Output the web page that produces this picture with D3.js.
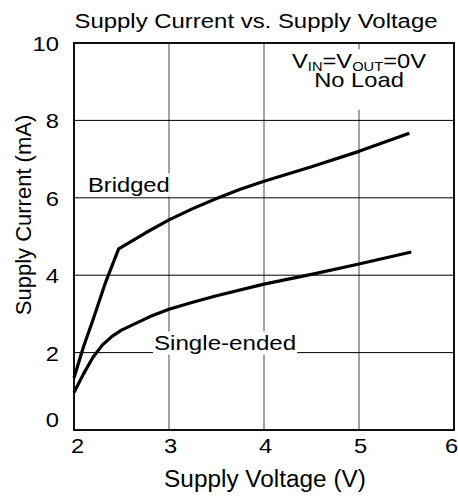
<!DOCTYPE html>
<html lang="en">
<head>
    <meta charset="utf-8">
    <title>Supply Current vs. Supply Voltage</title>
    <script src="https://d3js.org/d3.v7.min.js"></script>
    <style>
        body { margin: 0; background: #fff; }
        text { font-family: "Liberation Sans", Arial, sans-serif; fill: #000; }
    </style>
</head>
<body>
    <div id="chart"></div>
    <script>
        const w = 458;
        const h = 496;

        // data
        const xTicks = [2, 3, 4, 5, 6];
        const yTicks = [0, 2, 4, 6, 8, 10];
        const bridgedV = [2.0, 2.1, 2.2, 2.33, 2.47, 2.75, 3.0, 3.25, 3.5, 3.75, 4.0, 4.5, 5.0, 5.53];
        const bridgedI = [1.35, 2.15, 2.85, 3.8, 4.68, 5.09, 5.43, 5.72, 5.98, 6.22, 6.43, 6.8, 7.2, 7.67];
        const singleV = [2.0, 2.1, 2.2, 2.3, 2.4, 2.5, 2.8, 3.0, 3.25, 3.5, 4.0, 4.5, 5.0, 5.55];
        const singleI = [0.97, 1.45, 1.88, 2.2, 2.42, 2.58, 2.93, 3.12, 3.3, 3.47, 3.77, 4.02, 4.29, 4.6];

        const plotL = 74, plotR = 454, plotT = 43, plotB = 430;
        const sx = 1.13; // the reference lettering is a little wider than Arial

        const svg = d3.select("#chart")
            .append("svg")
            .attr("width", w)
            .attr("height", h);

        const xScale = d3.scaleLinear().domain([2, 6]).range([plotL, plotR]);
        const yScale = d3.scaleLinear().domain([0, 10]).range([plotB, plotT]);

        function label(parent, x, y, str, size, k, anchor) {
            return parent.append("text")
                .attr("transform", `translate(${x},${y}) scale(${k},1)`)
                .attr("text-anchor", anchor || "start")
                .style("font-size", size + "px")
                .text(str);
        }

        // grid
        svg.selectAll("line.vgrid")
            .data(xTicks.slice(1, -1))
            .enter().append("line")
            .attr("class", "vgrid")
            .attr("x1", d => xScale(d)).attr("x2", d => xScale(d))
            .attr("y1", plotT).attr("y2", plotB)
            .attr("stroke", "#666").attr("stroke-width", 1.2);

        svg.selectAll("line.hgrid")
            .data(yTicks.slice(1, -1))
            .enter().append("line")
            .attr("class", "hgrid")
            .attr("x1", plotL).attr("x2", plotR)
            .attr("y1", d => yScale(d)).attr("y2", d => yScale(d))
            .attr("stroke", "#000").attr("stroke-width", 1);

        // labels with white boxes behind them
        function boxedLabel(g, pad) {
            const bb = g.node().getBBox();
            g.insert("rect", ":first-child")
                .attr("x", bb.x - pad[0]).attr("y", bb.y - pad[1])
                .attr("width", bb.width + 2 * pad[0]).attr("height", bb.height + pad[1] + pad[2])
                .attr("fill", "#fff");
        }

        const cond = svg.append("g");
        const t1 = cond.append("text")
            .attr("transform", `translate(${xScale(5)},68) scale(${sx},1)`)
            .attr("text-anchor", "middle")
            .style("font-size", "21px");
        t1.append("tspan").text("V");
        t1.append("tspan").text("IN").style("font-size", "13px").attr("dy", 3);
        t1.append("tspan").text("=V").attr("dy", -3);
        t1.append("tspan").text("OUT").style("font-size", "13px").attr("dy", 3);
        t1.append("tspan").text("=0V").attr("dy", -3);
        label(cond, xScale(5), 87, "No Load", 21, sx, "middle");
        boxedLabel(cond, [4, 0, 18]);

        const bLab = svg.append("g");
        label(bLab, 88, 192, "Bridged", 21, sx);
        boxedLabel(bLab, [0, 0, 0]);

        const sLab = svg.append("g");
        label(sLab, 154, 350, "Single-ended", 21, 1.15);
        boxedLabel(sLab, [1, 0, 0]);

        // frame
        svg.append("rect")
            .attr("x", plotL).attr("y", plotT)
            .attr("width", plotR - plotL).attr("height", plotB - plotT)
            .attr("fill", "none")
            .attr("stroke", "#111").attr("stroke-width", 2);

        // curves
        const line = d3.line()
            .x(d => xScale(d[0]))
            .y(d => yScale(d[1]));

        const series = [
            d3.zip(bridgedV, bridgedI),
            d3.zip(singleV, singleI)
        ];

        svg.selectAll("path.curve")
            .data(series)
            .enter().append("path")
            .attr("class", "curve")
            .attr("d", line)
            .attr("fill", "none")
            .attr("stroke", "#000")
            .attr("stroke-width", 3.2)
            .attr("stroke-linejoin", "round");

        // axes
        const xAxis = d3.axisBottom(xScale).tickValues(xTicks).tickSize(0).tickFormat(d3.format("d"));
        const yAxis = d3.axisLeft(yScale).tickValues(yTicks).tickSize(0).tickFormat(d3.format("d"));

        svg.append("g")
            .attr("transform", `translate(0, ${plotB})`)
            .call(xAxis)
            .call(g => g.select(".domain").remove())
            .selectAll("text")
            .attr("x", null).attr("y", null).attr("dy", null)
            .attr("transform", (d, i) => `translate(${i === 0 ? 3 : i === xTicks.length - 1 ? -3 : 1},23) scale(${sx},1)`)
            .style("font-size", "21px")
            .attr("fill", "#000");

        // the 0 label sits a little higher so it clears the x labels
        svg.append("g")
            .attr("transform", `translate(${plotL}, 0)`)
            .call(yAxis)
            .call(g => g.select(".domain").remove())
            .selectAll("text")
            .attr("x", null).attr("dy", null)
            .attr("transform", d => `translate(-15,${d === 0 ? -3.5 : 7.5}) scale(${sx},1)`)
            .style("font-size", "21px")
            .attr("fill", "#000");

        // titles
        label(svg, 256, 28, "Supply Current vs. Supply Voltage", 21, 1.14, "middle");
        label(svg, 265, 487, "Supply Voltage (V)", 23, 1.06, "middle");

        svg.append("text")
            .attr("transform", "translate(31, 215) rotate(-90)")
            .attr("text-anchor", "middle")
            .style("font-size", "22px")
            .text("Supply Current (mA)");
    </script>
</body>
</html>
